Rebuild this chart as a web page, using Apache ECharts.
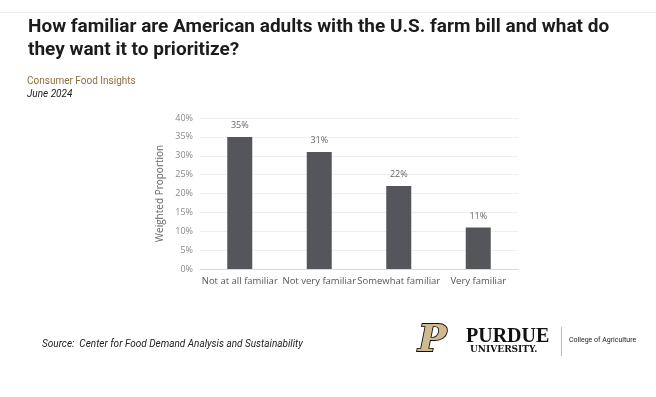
<!DOCTYPE html>
<html lang="en">
<head>
    <meta charset="UTF-8">
    <script type="text/javascript" src="https://cdn.jsdelivr.net/npm/echarts@6/dist/echarts.min.js"></script>
    <title>farm bill familiarity</title>
    <style>
        html, body { margin: 0; padding: 0; background: #fff; }
    </style>
</head>
<body>
    <div id="container" style="width: 656px; height: 397px;"></div>
<script type="text/javascript">
    // data
    var categories = ['Not at all familiar', 'Not very familiar', 'Somewhat familiar', 'Very familiar'];
    var shares = [35, 31, 22, 11];
    var yTicks = [0, 5, 10, 15, 20, 25, 30, 35, 40];

    var dom = document.getElementById('container');
    var myChart = echarts.init(dom, null, { renderer: 'canvas' });

    var option = {
        backgroundColor: '#fff',
        animation: false,
        title: [{
            text: 'How familiar are American adults with the U.S. farm bill and what do\nthey want it to prioritize?',
            left: 23,
            top: 11,
            textStyle: {
                fontFamily: 'Roboto',
                fontWeight: 'bold',
                fontSize: 19,
                lineHeight: 23,
                color: '#1c1c1c'
            }
        }, {
            text: 'Consumer Food Insights',
            left: 22,
            top: 71,
            textStyle: { fontFamily: 'Roboto', fontWeight: 'normal', fontSize: 10, color: '#8b6f3c' }
        }, {
            text: 'June 2024',
            left: 22,
            top: 84,
            textStyle: { fontFamily: 'Roboto', fontWeight: 'normal', fontStyle: 'italic', fontSize: 10, color: '#222' }
        }, {
            text: 'Source:  Center for Food Demand Analysis and Sustainability',
            left: 37,
            top: 334,
            textStyle: { fontFamily: 'Roboto', fontWeight: 'normal', fontStyle: 'italic', fontSize: 10, color: '#222' }
        }],
        grid: {
            left: 200,
            right: 138,
            top: 118,
            bottom: 128
        },
        xAxis: {
            type: 'category',
            data: categories,
            axisTick: { show: false },
            axisLine: { lineStyle: { color: '#d9d9d9' } },
            axisLabel: { color: '#555', fontSize: 9.5, fontFamily: 'Open Sans', margin: 7, interval: 0 }
        },
        yAxis: {
            type: 'value',
            min: yTicks[0],
            max: yTicks[yTicks.length - 1],
            interval: 5,
            name: 'Weighted Proportion',
            nameLocation: 'middle',
            nameRotate: 90,
            nameGap: 35,
            nameTextStyle: { color: '#666', fontSize: 10, fontFamily: 'Open Sans' },
            axisLabel: { color: '#888', fontSize: 9, fontFamily: 'Open Sans', margin: 7, formatter: '{value}%' },
            splitLine: { lineStyle: { color: '#efefef' } }
        },
        series: [{
            type: 'bar',
            data: shares,
            barWidth: 25,
            itemStyle: { color: '#54565b' },
            label: {
                show: true,
                position: 'top',
                distance: 7,
                color: '#666',
                fontSize: 9,
                fontFamily: 'Open Sans',
                formatter: '{c}%'
            }
        }],
        graphic: [
            // faint separator at the very top
            { type: 'rect', shape: { x: 0, y: 12, width: 656, height: 1 }, style: { fill: '#ececec' } },
            // purdue logo, approximated with text
            {
                type: 'text', left: 417, top: 321,
                style: {
                    text: 'P', font: 'italic bold 38px "DejaVu Serif"',
                    fill: '#cfb991', stroke: '#111', lineWidth: 1.8
                }
            },
            {
                type: 'text', left: 466, top: 327,
                style: { text: 'PURDUE', font: 'bold 20px "Liberation Serif"', fill: '#111' }
            },
            {
                type: 'text', left: 470, top: 345,
                style: { text: 'UNIVERSITY.', font: 'bold 9px "DejaVu Serif"', fill: '#111' }
            },
            { type: 'rect', shape: { x: 561, y: 327, width: 1, height: 29 }, style: { fill: '#bbb' } },
            {
                type: 'text', left: 569, top: 337,
                style: { text: 'College of Agriculture', font: '7px "Liberation Sans Narrow", "Roboto"', fill: '#222' }
            }
        ]
    };

    myChart.setOption(option);
    window.addEventListener('resize', myChart.resize);
</script>
</body>
</html>
